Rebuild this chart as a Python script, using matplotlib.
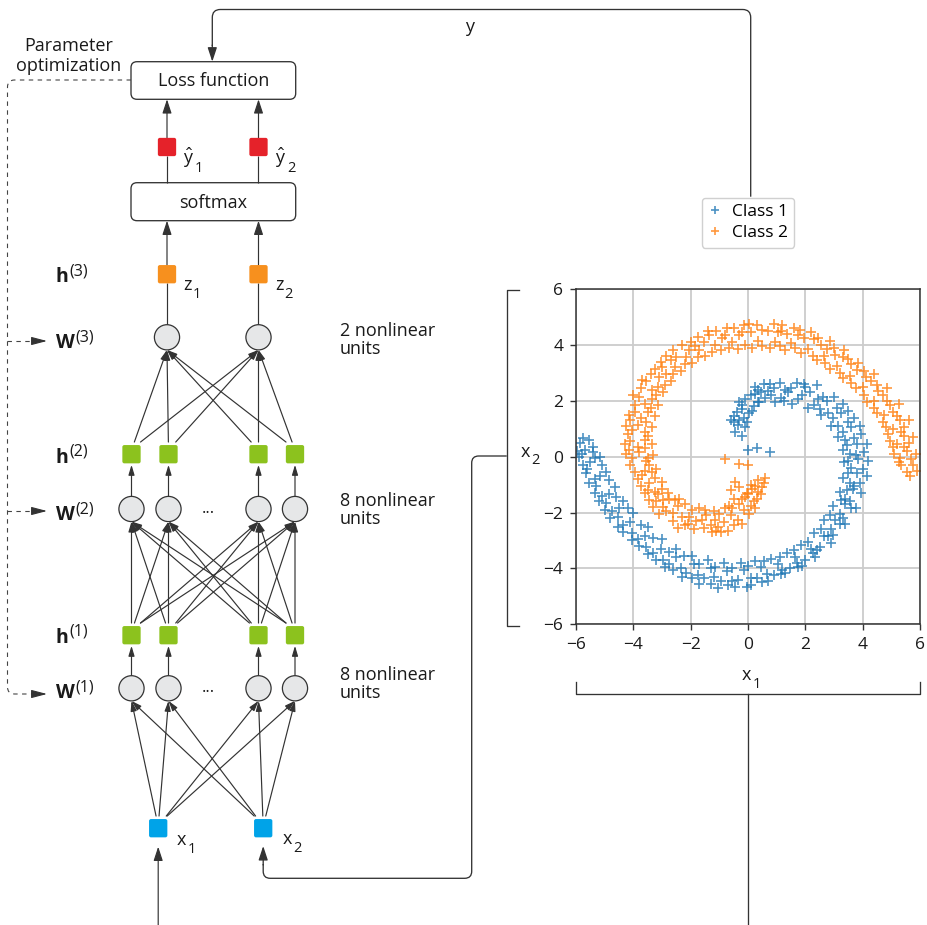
import numpy as np
import matplotlib
matplotlib.use('Agg')
import matplotlib.pyplot as plt
from matplotlib.patches import FancyBboxPatch, FancyArrowPatch, Circle, PathPatch
from matplotlib.path import Path

plt.rcParams['font.family'] = ['Open Sans', 'DejaVu Sans']
plt.rcParams['mathtext.fontset'] = 'custom'
plt.rcParams['mathtext.rm'] = 'Open Sans'
plt.rcParams['mathtext.it'] = 'Open Sans'
plt.rcParams['mathtext.bf'] = 'Open Sans:bold'

# --- two-spiral sample (x1, x2) ---
class1_pts = [
    (-0.45, 0.9), (-0.2, 0.75), (-0.35, 1.15), (-0.1, 1.05), (-0.5, 1.25),
    (-0.15, 1.4), (-0.4, 1.6), (-0.2, 1.7), (0.05, 1.55), (-0.5, 1.45),
    (0.2, 1.8), (-0.1, 2.05), (0.1, 2.2), (0.35, 1.95), (-0.2, 1.85),
    (0.4, 1.95), (0.6, 2.1), (0.35, 2.4), (0.55, 2.6), (0.25, 2.25),
    (0.95, 1.95), (1.15, 2.1), (0.9, 2.45), (1.1, 2.65), (0.8, 2.2),
    (1.55, 1.9), (1.75, 2.05), (1.5, 2.45), (1.7, 2.65), (1.4, 2.3),
    (2.1, 1.75), (2.3, 1.85), (2.15, 2.3), (2.4, 2.55), (2.0, 2.5),
    (2.55, 1.5), (2.8, 1.55), (2.75, 2.0), (3.0, 2.15), (2.6, 2.15),
    (2.9, 1.1), (3.15, 1.1), (3.25, 1.55), (3.5, 1.65), (3.1, 1.75),
    (3.15, 0.7), (3.4, 0.6), (3.6, 1.05), (3.9, 1.1), (3.5, 1.25),
    (3.3, 0.25), (3.55, 0.1), (3.8, 0.45), (4.15, 0.45), (3.7, 0.65),
    (3.35, -0.2), (3.6, -0.4), (3.85, -0.1), (4.2, -0.15), (3.75, 0.05),
    (3.3, -0.75), (3.55, -0.95), (3.8, -0.6), (4.15, -0.7), (3.7, -1.05),
    (3.2, -1.25), (3.4, -1.5), (3.65, -1.15), (3.95, -1.3), (3.55, -1.6),
    (2.95, -1.75), (3.2, -2.05), (3.4, -1.7), (3.75, -1.85), (3.3, -2.2),
    (2.65, -2.25), (2.9, -2.6), (3.05, -2.25), (3.4, -2.4), (2.95, -2.8),
    (2.3, -2.75), (2.5, -3.25), (2.65, -2.85), (2.9, -3.1), (2.4, -3.35),
    (1.85, -3.15), (2.0, -3.7), (2.2, -3.3), (2.35, -3.6), (1.9, -3.9),
    (1.35, -3.45), (1.45, -4.0), (1.65, -3.6), (1.75, -3.95), (1.3, -4.15),
    (0.8, -3.65), (0.9, -4.25), (1.05, -3.85), (1.15, -4.2), (0.7, -4.45),
    (0.25, -3.75), (0.3, -4.35), (0.45, -3.95), (0.5, -4.5), (0.1, -4.6),
    (-0.25, -3.8), (-0.35, -4.4), (-0.15, -4.05), (-0.05, -4.65), (-0.45, -4.65),
    (-0.85, -3.8), (-0.95, -4.45), (-0.75, -4.1), (-0.7, -4.6), (-1.05, -4.7),
    (-1.4, -3.7), (-1.55, -4.35), (-1.3, -4.0), (-1.3, -4.55), (-1.7, -4.55),
    (-1.95, -3.55), (-2.15, -4.15), (-1.9, -3.85), (-1.95, -4.35), (-2.3, -4.3),
    (-2.5, -3.3), (-2.75, -3.85), (-2.5, -3.6), (-2.6, -4.05), (-2.9, -3.95),
    (-3.0, -2.95), (-3.3, -3.45), (-3.05, -3.3), (-3.2, -3.7), (-3.5, -3.5),
    (-3.5, -2.5), (-3.85, -2.95), (-3.6, -2.85), (-3.8, -3.2), (-4.05, -3.0),
    (-4.0, -2.0), (-4.35, -2.45), (-4.1, -2.35), (-4.35, -2.7), (-4.55, -2.5),
    (-4.35, -1.6), (-4.75, -1.95), (-4.5, -1.85), (-4.8, -2.2), (-5.0, -1.9),
    (-4.65, -1.1), (-5.1, -1.4), (-4.85, -1.35), (-5.2, -1.6), (-5.35, -1.3),
    (-4.95, -0.55), (-5.35, -0.8), (-5.15, -0.7), (-5.55, -0.95), (-5.65, -0.6),
    (-5.15, 0.0), (-5.5, -0.2), (-5.35, -0.05), (-5.75, -0.3), (-5.9, 0.0),
    (-5.4, 0.35), (-5.7, 0.25), (-5.55, 0.6), (-5.85, 0.5), (-5.95, 0.2), (-5.75, 0.65),
    (0.0, 0.25), (0.3, 0.3), (0.75, 0.15), (-0.6, 1.3),
    (-0.3, 1.3), (-0.05, 1.25), (-0.3, 1.95), (0.15, 1.65), (0.25, 2.5), (0.45, 2.3),
    (0.7, 2.35), (0.75, 2.6), (1.3, 2.4), (1.25, 2.0), (1.9, 2.2), (1.95, 2.6),
    (2.45, 2.05), (2.5, 1.7), (2.95, 1.4), (3.3, 1.9), (3.3, 0.9), (3.7, 1.4),
    (3.45, 0.4), (3.95, 0.8), (3.5, -0.15), (4.05, 0.15), (3.5, -0.6), (4.0, -0.45),
    (3.45, -1.2), (3.9, -0.95), (3.25, -1.55), (3.6, -1.85), (2.85, -2.1), (3.2, -2.4),
    (2.55, -2.6), (2.8, -2.85), (2.1, -3.05), (2.25, -3.45), (1.6, -3.35), (1.7, -3.8),
    (1.1, -3.6), (1.2, -4.05), (0.55, -3.75), (0.65, -4.2), (0.0, -3.9), (0.1, -4.35),
    (-0.55, -4.0), (-0.55, -4.45), (-1.15, -3.95), (-1.2, -4.3), (-1.7, -3.85), (-1.75, -4.25),
    (-2.25, -3.55), (-2.35, -4.0), (-2.75, -3.4), (-2.95, -3.7), (-3.3, -2.9), (-3.55, -3.25),
    (-3.75, -2.45), (-4.05, -2.75), (-4.2, -1.85), (-4.55, -2.15), (-4.6, -1.45), (-4.95, -1.65),
    (-4.85, -0.85), (-5.3, -1.05), (-5.1, -0.3), (-5.6, -0.45), (-5.4, 0.15), (-5.8, 0.1),
]

class2_pts = [
    (0.6, -0.75), (0.35, -0.85), (0.5, -1.1), (0.25, -1.05), (0.55, -0.95),
    (0.3, -1.5), (0.1, -1.0), (0.35, -1.25), (0.0, -1.35), (0.2, -1.6),
    (-0.05, -1.3), (-0.2, -1.5), (0.1, -1.75), (-0.15, -1.9), (0.05, -2.05),
    (-0.3, -1.7), (-0.55, -1.85), (-0.35, -2.25), (-0.6, -2.1), (-0.2, -2.4),
    (-0.45, -0.9), (-0.6, -1.2), (-0.3, -1.1), (-0.5, -1.5),
    (-0.8, -0.1), (-0.3, -0.25), (0.0, -0.3),
    (-0.8, -1.85), (-1.0, -2.05), (-0.85, -2.35), (-1.05, -2.5), (-0.7, -2.65), (-0.95, -2.7),
    (-1.2, -1.95), (-1.45, -2.1), (-1.3, -2.45), (-1.55, -2.55), (-1.25, -2.7),
    (-1.7, -1.85), (-1.95, -1.9), (-1.8, -2.3), (-2.1, -2.4), (-1.9, -2.6),
    (-2.2, -1.7), (-2.45, -1.75), (-2.3, -2.15), (-2.6, -2.3), (-2.45, -2.55),
    (-2.55, -1.55), (-2.75, -1.5), (-2.85, -1.95), (-3.1, -2.05), (-2.95, -1.8),
    (-2.8, -1.3), (-3.0, -1.15), (-3.2, -1.6), (-3.45, -1.55), (-3.15, -1.35),
    (-3.0, -0.9), (-3.25, -0.75), (-3.5, -1.2), (-3.75, -1.05), (-3.45, -0.95),
    (-3.2, -0.45), (-3.45, -0.3), (-3.7, -0.65), (-3.95, -0.55), (-3.6, -0.5),
    (-3.3, 0.05), (-3.55, -0.15), (-3.8, 0.15), (-4.05, -0.05), (-4.25, 0.1),
    (-3.35, 0.45), (-3.6, 0.6), (-3.85, 0.35), (-4.1, 0.55), (-4.3, 0.45),
    (-3.35, 1.05), (-3.6, 0.9), (-3.85, 1.15), (-4.05, 0.95), (-4.25, 1.1),
    (-3.25, 1.45), (-3.5, 1.6), (-3.75, 1.4), (-3.95, 1.6), (-4.15, 1.5),
    (-3.15, 1.85), (-3.35, 2.05), (-3.6, 1.9), (-3.8, 2.15), (-4.0, 2.2),
    (-2.95, 2.3), (-3.15, 2.5), (-3.35, 2.4), (-3.55, 2.7), (-3.7, 2.75),
    (-2.7, 2.7), (-2.85, 2.95), (-3.1, 2.85), (-3.25, 3.15), (-3.0, 3.2),
    (-2.35, 3.05), (-2.55, 3.2), (-2.7, 3.45), (-2.85, 3.6), (-2.5, 3.55),
    (-1.95, 3.35), (-2.15, 3.55), (-2.05, 3.8), (-2.3, 4.0), (-1.85, 3.95),
    (-1.5, 3.6), (-1.7, 3.8), (-1.55, 4.1), (-1.75, 4.3), (-1.35, 4.35),
    (-0.95, 3.8), (-1.15, 4.0), (-0.9, 4.25), (-1.1, 4.5), (-0.75, 4.6),
    (-0.35, 3.85), (-0.55, 4.1), (-0.3, 4.35), (-0.5, 4.6), (-0.15, 4.7),
    (0.15, 3.9), (0.35, 4.15), (0.1, 4.45), (0.3, 4.7), (0.05, 4.75),
    (0.75, 3.9), (0.95, 4.1), (0.7, 4.5), (0.9, 4.75), (1.05, 4.45),
    (1.3, 3.8), (1.5, 4.05), (1.35, 4.4), (1.6, 4.6), (1.2, 4.7),
    (1.85, 3.7), (2.1, 3.85), (1.95, 4.25), (2.2, 4.45), (1.8, 4.55),
    (2.4, 3.45), (2.65, 3.6), (2.55, 4.0), (2.85, 4.15), (2.45, 4.25),
    (2.85, 3.15), (3.1, 3.25), (3.05, 3.65), (3.35, 3.8), (3.0, 3.9),
    (3.3, 2.8), (3.55, 2.9), (3.6, 3.3), (3.85, 3.35), (3.5, 3.5),
    (3.75, 2.45), (4.0, 2.5), (4.1, 2.85), (4.4, 2.95), (4.05, 3.05),
    (4.15, 1.95), (4.4, 2.0), (4.55, 2.35), (4.85, 2.45), (4.5, 2.55),
    (4.5, 1.55), (4.75, 1.5), (4.95, 1.85), (5.25, 1.9), (4.85, 2.0),
    (4.8, 1.05), (5.05, 1.0), (5.3, 1.3), (5.6, 1.3), (5.2, 1.45),
    (4.95, 0.55), (5.2, 0.45), (5.45, 0.75), (5.75, 0.7), (5.35, 0.9),
    (5.1, 0.1), (5.3, -0.05), (5.55, 0.2), (5.85, 0.1), (5.45, 0.35),
    (5.35, -0.3), (5.55, -0.55), (5.75, -0.3), (5.9, -0.5), (5.65, -0.7),
    (0.45, -1.35), (0.15, -1.15), (-0.1, -1.45), (0.25, -1.85), (-0.5, -2.45), (-0.65, -1.75),
    (-1.15, -2.25), (-1.1, -2.65), (-1.6, -2.25), (-1.5, -1.9), (-2.05, -2.15), (-2.2, -2.45),
    (-2.6, -2.0), (-2.4, -1.5), (-2.95, -1.55), (-3.3, -1.8), (-3.25, -1.25), (-3.6, -1.3),
    (-3.35, -0.55), (-3.85, -0.8), (-3.5, -0.05), (-4.1, -0.3), (-3.6, 0.3), (-4.15, 0.25),
    (-3.5, 0.75), (-4.2, 0.8), (-3.55, 1.25), (-4.1, 1.3), (-3.4, 1.75), (-3.95, 1.85),
    (-3.2, 2.2), (-3.75, 2.45), (-2.9, 2.55), (-3.4, 2.95), (-2.6, 2.95), (-3.05, 3.4),
    (-2.2, 3.3), (-2.6, 3.8), (-1.75, 3.55), (-2.0, 4.1), (-1.25, 3.75), (-1.4, 4.5),
    (-0.65, 3.9), (-0.8, 4.35), (-0.1, 4.0), (-0.2, 4.45), (0.5, 3.95), (0.5, 4.55),
    (1.1, 3.95), (1.15, 4.5), (1.65, 3.9), (1.75, 4.35), (2.25, 3.6), (2.3, 4.2),
    (2.7, 3.35), (2.75, 3.85), (3.2, 3.0), (3.3, 3.55), (3.6, 2.65), (3.8, 3.1),
    (4.05, 2.2), (4.3, 2.7), (4.4, 1.75), (4.7, 2.2), (4.7, 1.25), (5.05, 1.6),
    (4.9, 0.8), (5.45, 1.05), (5.05, 0.35), (5.6, 0.5), (5.25, -0.2), (5.7, -0.1),
]

class_names = ['Class 1', 'Class 2']
class_colors = ['#1f77b4', '#ff7f0e']
axis_ticks = [-6, -4, -2, 0, 2, 4, 6]

INK = '#333333'
TXT = '#1a1a1a'
W, H = 928, 925

fig = plt.figure(figsize=(W / 100, H / 100), dpi=100)
ax = fig.add_axes([0, 0, 1, 1])
ax.set_xlim(0, W)
ax.set_ylim(H, 0)
ax.axis('off')


def arrow(p0, p1, big=False, lw=0.85):
    if big:
        style = '-|>,head_length=0.85,head_width=0.28'
    else:
        style = '-|>,head_length=0.6,head_width=0.18'
    ax.add_patch(FancyArrowPatch(p0, p1, arrowstyle=style, mutation_scale=10,
                                 shrinkA=0, shrinkB=0, color=INK, lw=lw))


def line(xs, ys, lw=0.85, **kw):
    ax.plot(xs, ys, color=INK, lw=lw, solid_capstyle='butt', **kw)


def rounded(points, r=7):
    # polyline with softened corners
    verts = [points[0]]
    codes = [Path.MOVETO]
    for i in range(1, len(points) - 1):
        a, b, c = (np.array(p, float) for p in points[i - 1:i + 2])
        d1 = (b - a) / np.linalg.norm(b - a)
        d2 = (c - b) / np.linalg.norm(c - b)
        verts += [tuple(b - d1 * r), tuple(b), tuple(b + d2 * r)]
        codes += [Path.LINETO, Path.CURVE3, Path.CURVE3]
    verts.append(points[-1])
    codes.append(Path.LINETO)
    return Path(verts, codes)


def box(x0, y0, x1, y1, text):
    ax.add_patch(FancyBboxPatch((x0, y0), x1 - x0, y1 - y0,
                                boxstyle='round,pad=0,rounding_size=6',
                                fc='white', ec=INK, lw=0.95))
    ax.text((x0 + x1) / 2, (y0 + y1) / 2 + 1, text, ha='center', va='center',
            fontsize=13, color=TXT)


def scripted(x, base, main, script, shift, fs=13, sfs=10.5, **kw):
    # main symbol on its baseline, then a raised/lowered index after it
    t = ax.text(x, base, main, fontsize=fs, va='baseline', ha='left', color=TXT, **kw)
    ax.annotate(script, xy=(1, base + shift), xycoords=(t, 'data'),
                xytext=(0.6, 0), textcoords='offset points',
                fontsize=sfs, va='baseline', ha='left', color=TXT)


SQ = 18.3
R = 12.6


def square(cx, cy, color):
    ax.add_patch(FancyBboxPatch((cx - SQ / 2, cy - SQ / 2), SQ, SQ,
                                boxstyle='round,pad=0,rounding_size=2',
                                fc=color, ec='none', zorder=3))


def unit(cx, cy):
    ax.add_patch(Circle((cx, cy), R, fc='#e6e7e8', ec=INK, lw=0.9, zorder=3))


def fan(srcs, src_top, tgts, tgt_y):
    for sx in srcs:
        for tx in tgts:
            off = np.clip((tx - sx) * 0.08, -9, 9)
            arrow((sx + off, src_top - 3), (tx, tgt_y))


# node columns and rows
cols4 = [131.5, 168.5, 258.5, 295.0]
cols2 = [167.0, 258.5]
xin = [158.2, 263.2]
y_hat, y_z, y_w3, y_h2, y_w2, y_h1, y_w1, y_x = 147, 274.2, 337.3, 454.2, 509, 635.2, 688.3, 828.2

# output side
box(131, 61.7, 295.7, 99.3, 'Loss function')
box(131, 182.7, 295.7, 220.7, 'softmax')
for cx in cols2:
    square(cx, y_hat, '#e5222a')
    arrow((cx, y_hat - SQ / 2), (cx, 99.3), big=True)
    line([cx, cx], [182.7, y_hat + SQ / 2])
    square(cx, y_z, '#f7901e')
    arrow((cx, y_z - SQ / 2), (cx, 220.7), big=True)
    unit(cx, y_w3)
    line([cx, cx], [y_w3 - R, y_z + SQ / 2])
scripted(183, 164, r'$\hat{\mathrm{y}}$', '1', 8)
scripted(275, 164, r'$\hat{\mathrm{y}}$', '2', 8)
scripted(183, 290, 'z', '1', 8)
scripted(275, 290, 'z', '2', 8)

# hidden layers
fan(cols4, y_h2 - SQ / 2, cols2, y_w3 + R)
for cx in cols4:
    square(cx, y_h2, '#8cc21e')
    unit(cx, y_w2)
    arrow((cx, y_w2 - R), (cx, y_h2 + SQ / 2 + 1.5))
    square(cx, y_h1, '#8cc21e')
    unit(cx, y_w1)
    arrow((cx, y_w1 - R), (cx, y_h1 + SQ / 2 + 1.5))
fan(cols4, y_h1 - SQ / 2, cols4, y_w2 + R)
ax.text(208.5, 513, '...', ha='center', va='baseline', fontsize=12, color=TXT)
ax.text(208.5, 692, '...', ha='center', va='baseline', fontsize=12, color=TXT)

# inputs
fan(xin, y_x - SQ / 2, cols4, y_w1 + R)
for cx in xin:
    square(cx, y_x, '#00a3e8')
scripted(177, 845, 'x', '1', 8)
scripted(283, 844, 'x', '2', 8)
arrow((xin[0], H + 2), (xin[0], 846.7), big=True)

# layer labels
for sym, idx, base in [('h', 3, 282), ('W', 3, 348), ('h', 2, 463),
                       ('W', 2, 520), ('h', 1, 643), ('W', 1, 698)]:
    scripted(56, base, sym, '(%d)' % idx, -7, fs=14, sfs=11.5, fontweight='bold')
for y in [340.5, 510, 684]:
    n = '2' if y < 400 else '8'
    ax.text(340, y, n + ' nonlinear\nunits', fontsize=13, va='center', ha='left',
            linespacing=1.0, color=TXT)

# parameter optimization feedback (dashed)
ax.text(69, 56, 'Parameter\noptimization', ha='center', va='center', fontsize=13,
        linespacing=1.1, color=TXT)
dash = dict(fill=False, ec='#444444', lw=0.8, linestyle=(0, (4, 4)))
ax.add_patch(PathPatch(rounded([(131, 80), (7.5, 80), (7.5, 694), (33, 694)], r=7), **dash))
for y in [341, 511]:
    ax.plot([7.5, 33], [y, y], color='#444444', lw=0.8, linestyle=(0, (4, 4)))
for y in [341, 511, 694]:
    ax.add_patch(FancyArrowPatch((32, y), (47, y), arrowstyle='-|>,head_length=0.95,head_width=0.25',
                                 mutation_scale=10, shrinkA=0, shrinkB=0, color='#333333', lw=0.8))

# target y fed to the loss
solid = dict(fill=False, ec=INK, lw=0.95)
ax.add_patch(PathPatch(rounded([(750.7, 196.7), (750.7, 9.5), (212.3, 9.5), (212.3, 46)], r=8), **solid))
arrow((212.3, 45), (212.3, 61.7), big=True, lw=0.95)
ax.text(470, 27, 'y', ha='center', va='center', fontsize=13, color=TXT)

# brackets around the scatter axes and the x2 / x1 feeds
ax.plot([519, 506.7, 506.7, 519], [290, 290, 626, 626], color=INK, lw=0.95)
ax.add_patch(PathPatch(rounded([(506.7, 456), (471.7, 456), (471.7, 878.3),
                                (263.2, 878.3), (263.2, 864)], r=7), **solid))
arrow((263.2, 865), (263.2, 846), big=True, lw=0.95)
ax.plot([575.7, 575.7, 920, 920], [682, 694, 694, 682], color=INK, lw=0.95)
ax.plot([748.3, 748.3], [694, H], color=INK, lw=0.95)
scripted(742, 680, 'x', '1', 7.5)
scripted(521, 457, 'x', '2', 7.5)

# scatter of the two classes
sax = fig.add_axes([576 / W, 1 - 624.3 / H, 344 / W, 335.3 / H])
for pts, name, col in zip([class1_pts, class2_pts], class_names, class_colors):
    arr = np.array(pts)
    sax.plot(arr[:, 0], arr[:, 1], '+', ls='none', color=col, ms=6.5, mew=1.2,
             alpha=0.8, label=name)
sax.set_xlim(-6, 6)
sax.set_ylim(-6, 6)
sax.set_xticks(axis_ticks)
sax.set_yticks(axis_ticks)
sax.grid(True, color='#cccccc', lw=1.3)
sax.set_axisbelow(True)
for s in sax.spines.values():
    s.set_color(INK)
    s.set_linewidth(1.1)
sax.tick_params(direction='out', length=4, width=1, color=INK, labelsize=12.5,
                labelcolor=TXT, pad=5)
sax.legend(loc='center', bbox_to_anchor=(747.8 / W, 1 - 222.7 / H),
           bbox_transform=fig.transFigure, fontsize=12.5, handlelength=0.8,
           handletextpad=0.6, borderpad=0.35, labelspacing=0.3, framealpha=1,
           edgecolor='#d0d0d0', fancybox=True, numpoints=1, markerscale=0.8)

fig.savefig('out.png', dpi=100)
